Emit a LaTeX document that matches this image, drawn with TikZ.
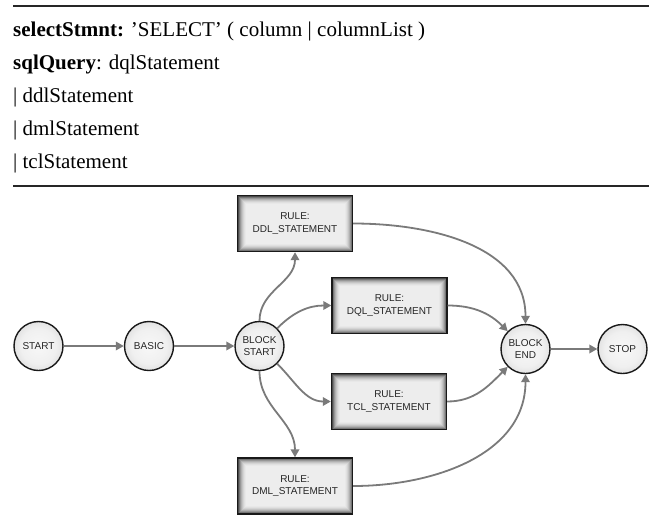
\documentclass[tikz,border=0pt]{standalone}
\usepackage{fontspec}
\setmainfont{Liberation Serif}
\setsansfont{Liberation Sans}
\usetikzlibrary{arrows.meta}

% soft sphere look for the state circles
\pgfdeclareradialshading{statefill}{\pgfpoint{0bp}{0bp}}{%
  color(0bp)=(black!3); color(18bp)=(black!6); color(32bp)=(black!16);
  color(42bp)=(black!34); color(47bp)=(black!52); color(50bp)=(black!68)}
\definecolor{edgegray}{HTML}{7A7A7A}

\tikzset{
  statenode/.style={circle, draw=black!90, line width=1.4pt, minimum size=49pt,
    inner sep=0pt, shade, shading=statefill, align=center,
    font=\sffamily\fontsize{10}{12}\selectfont, text=black!85},
  rulebox/.style={rectangle, draw=black!90, line width=1.4pt,
    minimum width=115pt, minimum height=56pt, inner sep=0pt, align=center,
    font=\sffamily\fontsize{10}{12.5}\selectfont, text=black!85,
    path picture={
      \foreach \i/\c in {0/70,1/54,2/41,3/31,4/23,5/17,6/12,7/9,8/7}{
        \fill[black!\c]
          ([shift={(\i pt,\i pt)}]path picture bounding box.south west)
          rectangle
          ([shift={(-\i pt,-\i pt)}]path picture bounding box.north east);
      }
    }},
  flow/.style={draw=edgegray, line width=1.8pt,
    -{Triangle[length=8pt,width=8.5pt]}},
  grammar/.style={anchor=base west, inner sep=0pt,
    font=\fontsize{21}{25}\selectfont},
  hrule/.style={line width=2pt, black!85},
}

\begin{document}
\begin{tikzpicture}[x=1pt,y=1pt]
  \useasboundingbox (0,0) rectangle (656,-528);

  % grammar excerpt
  \draw[hrule] (13,-6) -- (649,-6);
  \node[grammar] (g1) at (13,-36)
    {\textbf{selectStmnt:} ’SELECT’ ( column | columnList )};
  \node[grammar] (g2) at (13,-69) {\textbf{sqlQuery}: dqlStatement};
  \node[grammar] (g3) at (13,-102) {| ddlStatement};
  \node[grammar] (g4) at (13,-135) {| dmlStatement};
  \node[grammar] (g5) at (13,-168) {| tclStatement};
  \draw[hrule] (13,-186) -- (649,-186);

  % parser states
  \node[statenode] (start)  at (38.5,-346) {START};
  \node[statenode] (basic)  at (149,-346)  {BASIC};
  \node[statenode] (bstart) at (259.5,-346) {BLOCK\\START};
  \node[statenode] (bend)   at (525.5,-349) {BLOCK\\END};
  \node[statenode] (stop)   at (622.5,-349) {STOP};

  % rule boxes
  \node[rulebox] (ddl) at (295,-223.5)   {RULE:\\DDL\_STATEMENT};
  \node[rulebox] (dql) at (389.5,-305.5) {RULE:\\DQL\_STATEMENT};
  \node[rulebox] (tcl) at (389,-401.5)   {RULE:\\TCL\_STATEMENT};
  \node[rulebox] (dml) at (295,-486)     {RULE:\\DML\_STATEMENT};

  % transitions
  \draw[flow] (start) -- (basic);
  \draw[flow] (basic) -- (bstart);
  \draw[flow] (bstart.north) to[out=90,in=-90] (ddl.south);
  \draw[flow] (bstart.45) to[out=45,in=180] (dql.west);
  \draw[flow] (bstart.-45) to[out=-45,in=180] (tcl.west);
  \draw[flow] (bstart.south) to[out=-90,in=90] (dml.north);
  \draw[flow] (ddl.east) to[out=0,in=90] (bend.north);
  \draw[flow] (dql.east) to[out=0,in=135] (bend.135);
  \draw[flow] (tcl.east) to[out=0,in=-135] (bend.-135);
  \draw[flow] (dml.east) to[out=0,in=-90] (bend.south);
  \draw[flow] (bend) -- (stop);
\end{tikzpicture}
\end{document}
